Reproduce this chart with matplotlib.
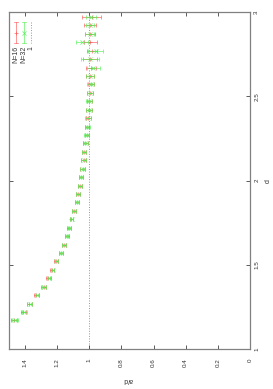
import matplotlib
matplotlib.use('Agg')
import matplotlib.pyplot as plt

plt.rcParams['font.family'] = ['Liberation Sans', 'DejaVu Sans']

# d values (ascending) and a/d for the two runs
d = [1.17, 1.22, 1.27, 1.32, 1.37, 1.42, 1.47, 1.52, 1.57, 1.62,
     1.67, 1.72, 1.77, 1.82, 1.87, 1.92, 1.97, 2.02, 2.07, 2.12,
     2.17, 2.22, 2.27, 2.32, 2.37, 2.42, 2.47, 2.52, 2.57, 2.62,
     2.67, 2.72, 2.77, 2.82, 2.87, 2.92, 2.97]

ad16 = [1.470, 1.410, 1.373, 1.329, 1.284, 1.255, 1.230, 1.206, 1.176, 1.160,
        1.141, 1.125, 1.111, 1.096, 1.079, 1.071, 1.060, 1.051, 1.042, 1.036,
        1.033, 1.025, 1.015, 1.015, 1.007, 1.003, 0.999, 0.995, 0.990, 0.995,
        0.990, 0.997, 0.985, 0.994, 0.997, 0.995, 0.985]
err16 = [0.020, 0.018, 0.017, 0.016, 0.015, 0.014, 0.013, 0.012, 0.012, 0.012,
         0.012, 0.012, 0.012, 0.012, 0.012, 0.012, 0.012, 0.013, 0.013, 0.013,
         0.014, 0.014, 0.015, 0.015, 0.016, 0.017, 0.018, 0.020, 0.020, 0.025,
         0.030, 0.045, 0.030, 0.041, 0.033, 0.038, 0.060]

ad32 = [1.462, 1.406, 1.370, 1.327, 1.283, 1.254, 1.229, 1.205, 1.176, 1.158,
        1.141, 1.124, 1.110, 1.095, 1.079, 1.070, 1.059, 1.050, 1.042, 1.036,
        1.032, 1.025, 1.016, 1.013, 1.008, 1.004, 1.000, 0.996, 0.992, 0.994,
        0.975, 0.997, 0.960, 1.046, 0.998, 0.993, 0.990]
err32 = [0.018, 0.016, 0.015, 0.014, 0.013, 0.012, 0.012, 0.011, 0.011, 0.011,
         0.011, 0.011, 0.011, 0.012, 0.012, 0.012, 0.012, 0.013, 0.013, 0.014,
         0.014, 0.015, 0.016, 0.016, 0.017, 0.018, 0.019, 0.020, 0.022, 0.025,
         0.040, 0.055, 0.048, 0.036, 0.030, 0.025, 0.030]

xticks = [0, 0.2, 0.4, 0.6, 0.8, 1.0, 1.2, 1.4]
xticklabels = ['0', '0.2', '0.4', '0.6', '0.8', '1', '1.2', '1.4']
yticks = [1, 1.5, 2, 2.5, 3]
yticklabels = ['1', '1.5', '2', '2.5', '3']

W, H = 273, 389
fig = plt.figure(figsize=(W / 100, H / 100), dpi=100)
ax = fig.add_axes([9 / W, 40 / H, 241 / W, 337 / H])

red = '#ff5a5a'
green = '#55f055'
blue = '#3c3cff'
lw = 0.45

ax.axvline(1.0, color=blue, lw=0.7, ls=(0, (1, 1.6)), alpha=0.6, zorder=1)
ax.errorbar(ad16, d, xerr=err16, fmt='+', color=red, ms=2.5, mew=lw,
            elinewidth=lw, capsize=1.5, capthick=lw, zorder=2)
ax.errorbar(ad32, d, xerr=err32, fmt='x', color=green, ms=2.2, mew=lw,
            elinewidth=lw, capsize=1.5, capthick=lw, zorder=3)

ax.set_xlim(1.5, 0)
ax.set_ylim(1, 3)

ax.set_xticks(xticks)
ax.set_xticklabels(xticklabels, rotation=90, va='top', ha='center', fontsize=4.5)
ax.set_yticks(yticks)
ax.yaxis.tick_right()
ax.set_yticklabels(yticklabels, rotation=90, va='center', ha='left', fontsize=4.5)
ax.tick_params(axis='x', which='both', direction='in', top=True, bottom=True,
               length=3, width=0.6, pad=7, colors='#404040')
ax.tick_params(axis='y', which='both', direction='in', left=True, right=True,
               length=3, width=0.6, pad=3, colors='#404040')
for lab in ax.get_xticklabels() + ax.get_yticklabels():
    lab.set_color('#333333')
for s in ax.spines.values():
    s.set_color('#808080')
    s.set_linewidth(0.9)

# axis labels (plot is rotated)
fig.text(128 / W, 1 - 380 / H, 'a/d', rotation=180, ha='center', va='center',
         fontsize=5, color='#333333')
fig.text(268 / W, 1 - 181 / H, 'd', rotation=90, ha='center', va='center',
         fontsize=5, color='#333333')

# key, top-left, drawn in axes coordinates
def px(x, y):
    return ((x - 9) / 241, (349 - y) / 337)

keys = [(16, 'N=16', red, '+'), (23.5, 'N=32', green, 'x')]
for xk, lab, col, mk in keys:
    x0, y0 = px(xk, 22)
    x1, y1 = px(xk, 43)
    ax.plot([x0, x1], [y0, y1], color=col, lw=lw, transform=ax.transAxes,
            clip_on=False)
    for yy in (22, 43):
        a0, b0 = px(xk - 2, yy)
        a1, b1 = px(xk + 2, yy)
        ax.plot([a0, a1], [b0, b1], color=col, lw=lw, transform=ax.transAxes)
    mx, my = px(xk, 32.5)
    ax.plot([mx], [my], marker=mk, color=col, ms=2.5, mew=lw,
            transform=ax.transAxes)
    tx, ty = px(xk, 46)
    ax.text(tx, ty, lab, rotation=90, ha='center', va='top', fontsize=5,
            color='#333333', transform=ax.transAxes)

x0, y0 = px(31, 22)
x1, y1 = px(31, 43)
ax.plot([x0, x1], [y0, y1], color=blue, lw=0.7, ls=(0, (1, 1.6)), alpha=0.6,
        transform=ax.transAxes)
tx, ty = px(31, 46)
ax.text(tx, ty, '1', rotation=90, ha='center', va='top', fontsize=5,
        color='#333333', transform=ax.transAxes)

fig.savefig('out.png', dpi=100)
